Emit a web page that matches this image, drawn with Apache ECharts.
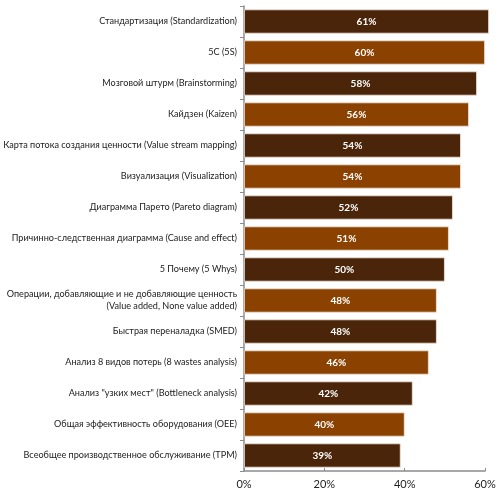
<!DOCTYPE html>
<html><head><meta charset="utf-8">
<script src="https://cdn.jsdelivr.net/npm/echarts@6/dist/echarts.min.js"></script>
<style>html,body{margin:0;padding:0;background:#fff}#c{width:500px;height:493px}</style>
</head><body><div id="c"></div>
<script>
const categories = [
  "Стандартизация (Standardization)",
  "5С (5S)",
  "Мозговой штурм (Brainstorming)",
  "Кайдзен (Kaizen)",
  "Карта потока создания ценности (Value stream mapping)",
  "Визуализация (Visualization)",
  "Диаграмма Парето (Pareto diagram)",
  "Причинно-следственная диаграмма (Cause and effect)",
  "5 Почему (5 Whys)",
  "Операции, добавляющие и не добавляющие ценность\n(Value added, None value added)",
  "Быстрая переналадка (SMED)",
  "Анализ 8 видов потерь (8 wastes analysis)",
  "Анализ \"узких мест\" (Bottleneck analysis)",
  "Общая эффективность оборудования (OEE)",
  "Всеобщее производственное обслуживание (TPM)"
];
const values = [61, 60, 58, 56, 54, 54, 52, 51, 50, 48, 48, 46, 42, 40, 39];
const tickLabels = ["0%", "20%", "40%", "60%"];
const colors = ["#4a2509", "#8b4200"];

const chart = echarts.init(document.getElementById('c'));
chart.setOption({
  animation: false,
  grid: {left: 244, right: 15, top: 6, bottom: 22, containLabel: false, outerBoundsMode: 'none'},
  xAxis: {
    type: 'value', min: 0, max: 60, interval: 20,
    axisLine: {show: true, lineStyle: {color: '#8c8c8c', width: 1.5}},
    axisTick: {show: true, inside: true, length: 3, lineStyle: {color: '#8c8c8c'}},
    splitLine: {show: false},
    axisLabel: {
      color: '#222', fontFamily: 'Lato', fontSize: 11, margin: 8,
      formatter: v => tickLabels[v / 20]
    }
  },
  yAxis: {
    type: 'category', inverse: true, data: categories,
    axisLine: {show: true, lineStyle: {color: '#8c8c8c', width: 1.5}},
    axisTick: {show: true, length: 4, lineStyle: {color: '#8c8c8c'}},
    axisLabel: {color: '#222', fontFamily: 'Lato', fontSize: 9.1, margin: 7, align: 'right', lineHeight: 12}
  },
  series: [{
    type: 'bar', clip: false, barCategoryGap: '22%',
    data: values.map((v, i) => ({value: v, itemStyle: {color: colors[i % 2]}})),
    itemStyle: {borderColor: '#f3e6dc', borderWidth: 0.8},
    label: {
      show: true, position: 'inside', color: '#fff', fontWeight: 'bold',
      fontFamily: 'Lato', fontSize: 10, formatter: p => p.value + '%'
    }
  }]
});
</script></body></html>
